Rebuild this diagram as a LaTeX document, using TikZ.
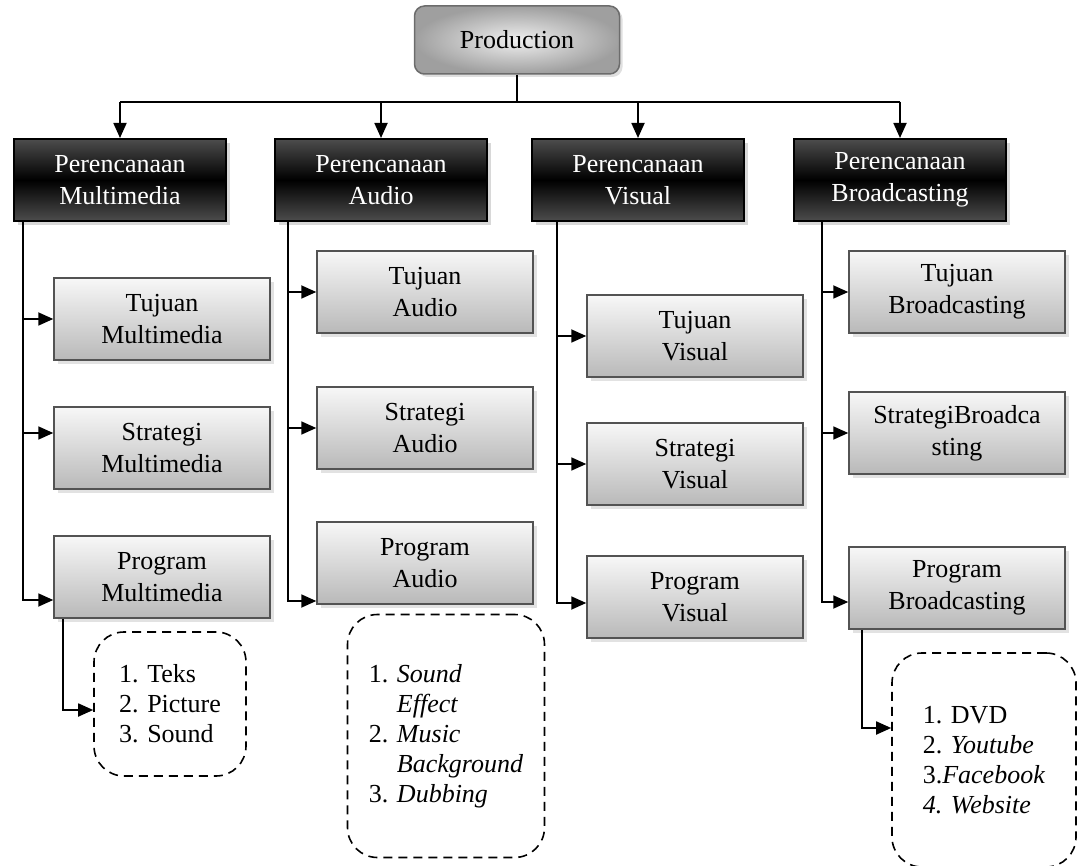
\documentclass[tikz,border=0pt]{standalone}
\usepackage{fontspec}
\setmainfont{Liberation Serif}
\usetikzlibrary{positioning,arrows.meta,shadows}

\begin{document}
\begin{tikzpicture}[x=1pt,y=-1pt,
	topnode/.style={rectangle, rounded corners=10pt, draw=gray!85!black, line width=1.5pt, inner color=gray!12, outer color=gray!75, minimum width=205pt, minimum height=68pt, font=\fontsize{26}{32}\selectfont, drop shadow={shadow xshift=3pt, shadow yshift=-3pt, fill=gray!50}},
	headnode/.style={rectangle, draw=black, line width=2pt, top color=gray!60!black, bottom color=gray!60!black, middle color=black, text=white, minimum width=212pt, minimum height=82pt, align=center, font=\fontsize{26}{32}\selectfont, drop shadow={shadow xshift=4pt, shadow yshift=-4pt, fill=gray!60}},
	subnode/.style={rectangle, draw=gray!65!black, line width=1.5pt, top color=gray!6, bottom color=gray!55, minimum width=216pt, minimum height=82pt, align=center, font=\fontsize{26}{32}\selectfont, drop shadow={shadow xshift=4pt, shadow yshift=-4pt, fill=gray!45}},
	listnode/.style={rectangle, rounded corners=30pt, draw=black, line width=1.6pt, dash pattern=on 9pt off 6pt, align=left, font=\fontsize{26}{30}\selectfont},
	arr/.style={-{Triangle[length=15pt,width=13pt]}, line width=1.8pt},
	link/.style={line width=1.8pt},
	]
	\useasboundingbox (0,0) rectangle (1079,866);
	%Nodes
	\node[topnode]  (p)  at (517,40)  {Production};
	\node[headnode] (h1) at (120,180) {Perencanaan\\Multimedia};
	\node[headnode] (h2) at (381,180) {Perencanaan\\Audio};
	\node[headnode] (h3) at (638,180) {Perencanaan\\Visual};
	\node[headnode] (h4) at (900,180) {Perencanaan\\Broadcasting};
	
	\node[subnode]  (t1) at (162,319) {Tujuan\\Multimedia};
	\node[subnode]  (s1) at (162,448) {Strategi\\Multimedia};
	\node[subnode]  (g1) at (162,577) {Program\\Multimedia};
	\node[subnode]  (t2) at (425,292) {Tujuan\\Audio};
	\node[subnode]  (s2) at (425,428) {Strategi\\Audio};
	\node[subnode]  (g2) at (425,563) {Program\\Audio};
	\node[subnode]  (t3) at (695,336) {Tujuan\\Visual};
	\node[subnode]  (s3) at (695,464) {Strategi\\Visual};
	\node[subnode]  (g3) at (695,597) {Program\\Visual};
	\node[subnode]  (t4) at (957,292) {Tujuan\\Broadcasting};
	\node[subnode]  (s4) at (957,433) {StrategiBroadca\\sting};
	\node[subnode]  (g4) at (957,588) {Program\\Broadcasting};
	
	\node[listnode, minimum width=152pt, minimum height=144pt] (l1) at (170,704) {1. Teks\\2. Picture\\3. Sound};
	\node[listnode, minimum width=197pt, minimum height=243pt] (l2) at (446,736)
		{1. \textit{Sound}\\\phantom{1. }\textit{Effect}\\2. \textit{Music}\\\phantom{2. }\textit{Background}\\3. \textit{Dubbing}};
	\node[listnode, minimum width=184pt, minimum height=214pt] (l4) at (984,760)
		{1. DVD\\2. \textit{Youtube}\\3.\textit{Facebook}\\\textit{4. Website}};
	
	%Trunk positions
	\coordinate (c1) at (23,0);
	\coordinate (c2) at (288,0);
	\coordinate (c3) at (557,0);
	\coordinate (c4) at (822,0);
	\coordinate (k1) at (63,0);
	\coordinate (k4) at (862,0);
	
	%Lines
	\draw[link] (p.south) -- ++(0,27) coordinate (j);
	\draw[link] (h1.north |- j) -- (h4.north |- j);
	\draw[arr] (h1.north |- j) -- (h1.north);
	\draw[arr] (h2.north |- j) -- (h2.north);
	\draw[arr] (h3.north |- j) -- (h3.north);
	\draw[arr] (h4.north |- j) -- (h4.north);
	
	\draw[arr] (h1.south -| c1) |- ([yshift=-23pt]g1.west);
	\draw[arr] (c1 |- t1.west) -- (t1.west);
	\draw[arr] ([yshift=15pt]s1.west -| c1) -- ([yshift=15pt]s1.west);
	
	\draw[arr] (h2.south -| c2) |- ([yshift=-38pt]g2.west);
	\draw[arr] (c2 |- t2.west) -- (t2.west);
	\draw[arr] (c2 |- s2.west) -- (s2.west);
	
	\draw[arr] (h3.south -| c3) |- ([yshift=-6pt]g3.west);
	\draw[arr] (c3 |- t3.west) -- (t3.west);
	\draw[arr] (c3 |- s3.west) -- (s3.west);
	
	\draw[arr] (h4.south -| c4) |- ([yshift=-14pt]g4.west);
	\draw[arr] (c4 |- t4.west) -- (t4.west);
	\draw[arr] (c4 |- s4.west) -- (s4.west);
	
	\draw[arr] (g1.south -| k1) |- ([yshift=-6pt]l1.west);
	\draw[arr] (g4.south -| k4) |- ([yshift=32pt]l4.west);
\end{tikzpicture}
\end{document}
